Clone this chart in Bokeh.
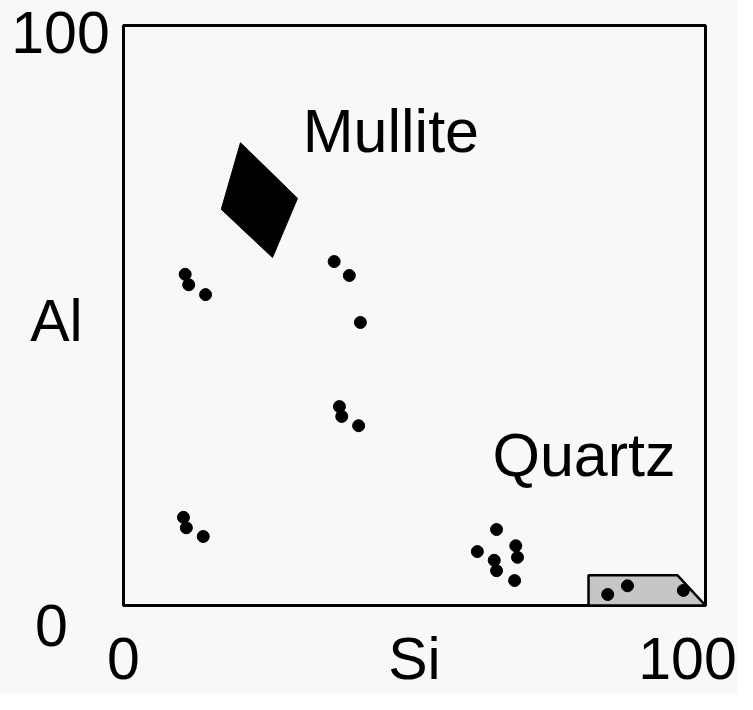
from bokeh.plotting import figure
from bokeh.models import Range1d, Label
from bokeh.embed import file_html
from bokeh.resources import INLINE

# ---- data (Si %, Al %) ----
si = [10.6, 11.2, 14.1, 10.3, 10.8, 13.7, 36.2, 38.8, 40.7, 37.1, 37.5, 40.4,
      64.1, 60.8, 67.4, 67.7, 63.7, 64.1, 67.2, 83.2, 86.6, 96.2]
al = [57.1, 55.3, 53.6, 15.2, 13.4, 11.9, 59.3, 56.9, 48.8, 34.3, 32.6, 31.0,
      13.1, 9.3, 10.3, 8.3, 7.8, 6.0, 4.3, 1.9, 3.4, 2.6]

mullite_si = [20.1, 29.9, 25.6, 16.8]
mullite_al = [79.8, 70.2, 60.0, 68.3]
quartz_si = [79.9, 95.2, 100.0, 79.9]
quartz_al = [5.2, 5.2, 0.0, 0.0]

axis_min, axis_max = 0, 100
x_tick_values = [0, 50, 100]
x_tick_labels = ["0", "Si", "100"]
y_tick_values = [100, 50, 0]
y_tick_labels = ["100", "Al", "0"]

region_names = ["Mullite", "Quartz"]
region_label_pos = [(30.8, 77.9), (63.4, 21.9)]

FONT = "Liberation Sans"
FS = "61px"
TICK_FS = "59px"
BG = "#f8f8f8"

W, H = 737, 694
# frame covers the whole canvas; the 0..100 box sits inside it
px_per_x = 5.82
px_per_y = 5.80
box_left, box_top = 123, 25
x_start = axis_min - box_left / px_per_x
x_end = x_start + W / px_per_x
y_end = axis_max + box_top / px_per_y
y_start = y_end - H / px_per_y

TEXT_DY = 23  # correction for the rendered baseline position

p = figure(width=W, height=H, output_backend="svg", toolbar_location=None,
           x_range=Range1d(x_start, x_end), y_range=Range1d(y_start, y_end),
           x_axis_type=None, y_axis_type=None, min_border=0)
p.grid.visible = False
p.background_fill_color = BG
p.border_fill_color = BG
p.outline_line_color = None

# plot box
p.quad(left=[axis_min], right=[axis_max], bottom=[axis_min], top=[axis_max],
       fill_color=None, line_color="black", line_width=3)

p.patch(mullite_si, mullite_al, fill_color="black", line_color="black", line_width=1)
p.patch(quartz_si, quartz_al, fill_color="#c6c6c6", line_color="black", line_width=2.5)

p.scatter(si, al, size=12, color="black")

# x tick labels
x_dx = [0, 0, -18]
for v, t, dx in zip(x_tick_values, x_tick_labels, x_dx):
    p.add_layout(Label(x=v, y=axis_min, text=t, x_offset=dx, y_offset=-76 + TEXT_DY,
                       text_align="center", text_baseline="alphabetic",
                       text_font=FONT, text_font_size=TICK_FS, text_color="black"))

# y tick labels
y_dx = [-63, -67, -72]
y_dy = [-30, -28, -43]
for v, t, dx, dy in zip(y_tick_values, y_tick_labels, y_dx, y_dy):
    p.add_layout(Label(x=axis_min, y=v, text=t, x_offset=dx, y_offset=dy + TEXT_DY,
                       text_align="center", text_baseline="alphabetic",
                       text_font=FONT, text_font_size=TICK_FS, text_color="black"))

for name, (lx, ly) in zip(region_names, region_label_pos):
    p.add_layout(Label(x=lx, y=ly, text=name, y_offset=TEXT_DY, text_align="left",
                       text_baseline="alphabetic", text_font=FONT,
                       text_font_size=FS, text_color="black"))

open("out.html", "w").write(file_html(p, INLINE))
